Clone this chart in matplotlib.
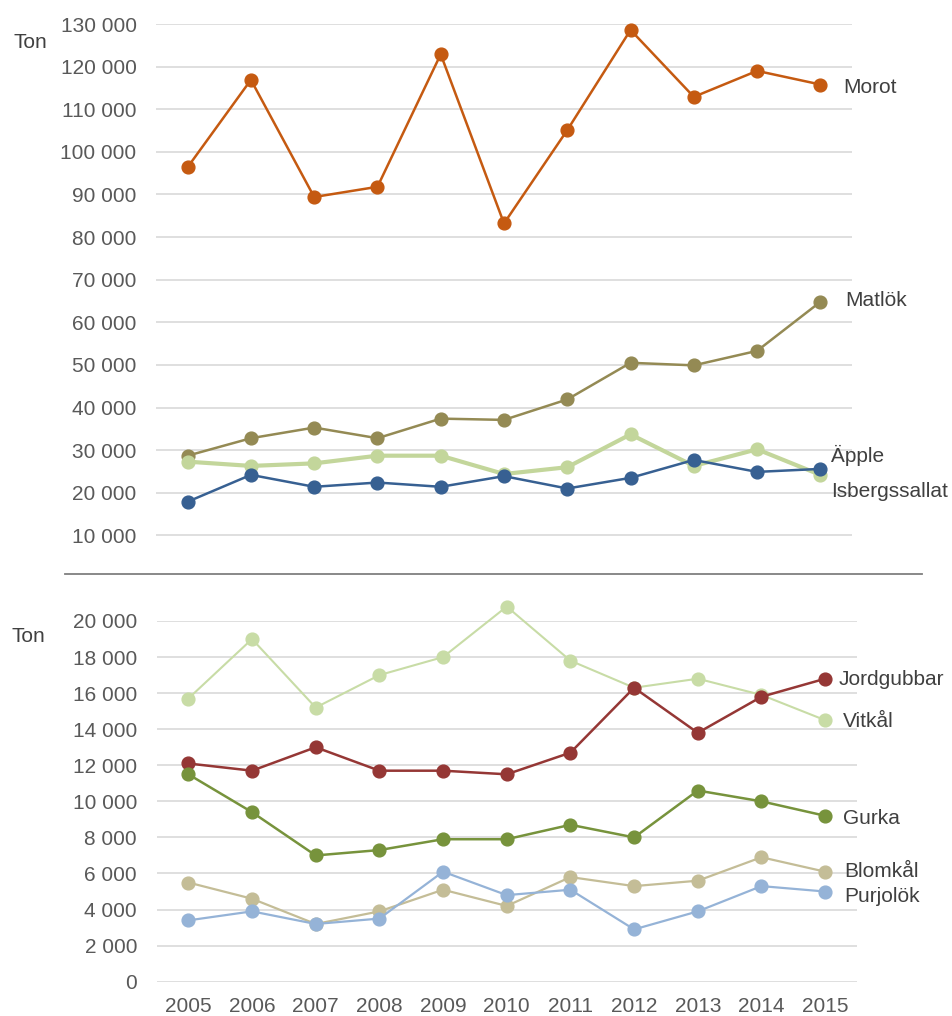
import matplotlib.pyplot as plt
from matplotlib.lines import Line2D

plt.rcParams['font.family'] = ['Liberation Sans', 'DejaVu Sans']

years = ['2005', '2006', '2007', '2008', '2009', '2010',
         '2011', '2012', '2013', '2014', '2015']

# upper panel (ton)
morot = [96400, 116900, 89400, 91800, 122900, 83200, 105100, 128600, 112900, 119000, 115800]
matlok = [28700, 32800, 35300, 32800, 37400, 37100, 41900, 50500, 49900, 53300, 64800]
apple = [27300, 26300, 26900, 28700, 28700, 24400, 26000, 33700, 26300, 30200, 24200]
isberg = [17900, 24200, 21400, 22400, 21400, 23900, 21000, 23500, 27700, 24900, 25600]

# lower panel (ton)
vitkal = [15700, 19000, 15200, 17000, 18000, 20800, 17800, 16300, 16800, 15900, 14500]
jordgubbar = [12100, 11700, 13000, 11700, 11700, 11500, 12700, 16300, 13800, 15800, 16800]
gurka = [11500, 9400, 7000, 7300, 7900, 7900, 8700, 8000, 10600, 10000, 9200]
blomkal = [5500, 4600, 3200, 3900, 5100, 4200, 5800, 5300, 5600, 6900, 6100]
purjolok = [3400, 3900, 3200, 3500, 6100, 4800, 5100, 2900, 3900, 5300, 5000]

top_ticks = list(range(10000, 130001, 10000))
bot_ticks = list(range(0, 20001, 2000))

TXT = '#595959'
LBL = '#404040'
GRID = '#D9D9D9'
FS = 15

# (name, values, colour, linewidth, label offset in px (dx, dy))
top_series = [
    ('Matlök', matlok, '#948A54', 1.8, (25, -4)),
    ('Äpple', apple, '#C3D69B', 3.0, (11, 13)),
    ('Isbergssallat', isberg, '#376092', 1.8, (11, -28)),
    ('Morot', morot, '#C55A11', 1.8, (23, -8)),
]
bot_series = [
    ('Vitkål', vitkal, '#C8DCA6', 1.5, (18, -7)),
    ('Blomkål', blomkal, '#C4BD97', 1.6, (19, -5)),
    ('Purjolök', purjolok, '#95B3D7', 1.6, (19, -10)),
    ('Jordgubbar', jordgubbar, '#953735', 1.8, (13, -6)),
    ('Gurka', gurka, '#77933C', 1.8, (18, -8)),
]

W, H = 952, 1016
fig = plt.figure(figsize=(W / 100, H / 100), dpi=100)


def fmt(v):
    return f'{v:,}'.replace(',', ' ')


def style(ax, ticks):
    for s in ax.spines.values():
        s.set_visible(False)
    ax.set_xlim(-0.5, len(years) - 0.5)
    ax.set_yticks(ticks)
    ax.set_yticklabels([fmt(t) for t in ticks])
    ax.yaxis.grid(True, color=GRID, lw=1.2)
    ax.set_axisbelow(True)
    ax.tick_params(axis='y', length=0, pad=14, labelsize=FS, labelcolor=TXT)
    ax.tick_params(axis='x', length=0, pad=11, labelsize=FS, labelcolor=TXT)


def draw(ax, series):
    x = range(len(years))
    for name, vals, col, lw, (dx, dy) in series:
        ax.plot(x, vals, '-o', color=col, lw=lw, ms=9.2, clip_on=False)
        ax.annotate(name, xy=(x[-1], vals[-1]), xytext=(dx * 0.72, dy * 0.72),
                    textcoords='offset points', ha='left', va='baseline',
                    fontsize=FS, color=LBL, annotation_clip=False)


# upper chart
ax1 = fig.add_axes([156 / W, 1 - 578 / H, 696 / W, 554 / H])
style(ax1, top_ticks)
ax1.set_ylim(0, 130000)
ax1.set_xticks([])
draw(ax1, top_series)

# lower chart
ax2 = fig.add_axes([156.5 / W, 1 - 981.7 / H, 700.5 / W, 360.7 / H])
style(ax2, bot_ticks)
ax2.set_ylim(0, 20000)
ax2.set_xticks(range(len(years)))
ax2.set_xticklabels(years)
draw(ax2, bot_series)

# unit labels and divider
fig.text(13 / W, 1 - 43 / H, 'Ton', fontsize=FS, color=LBL, va='center')
fig.text(12 / W, 1 - 637 / H, 'Ton', fontsize=FS, color=LBL, va='center')
fig.add_artist(Line2D([65 / W, 922 / W], [1 - 574 / H] * 2,
                      color='#7F7F7F', lw=1.3))

fig.savefig('out.png', dpi=100)
